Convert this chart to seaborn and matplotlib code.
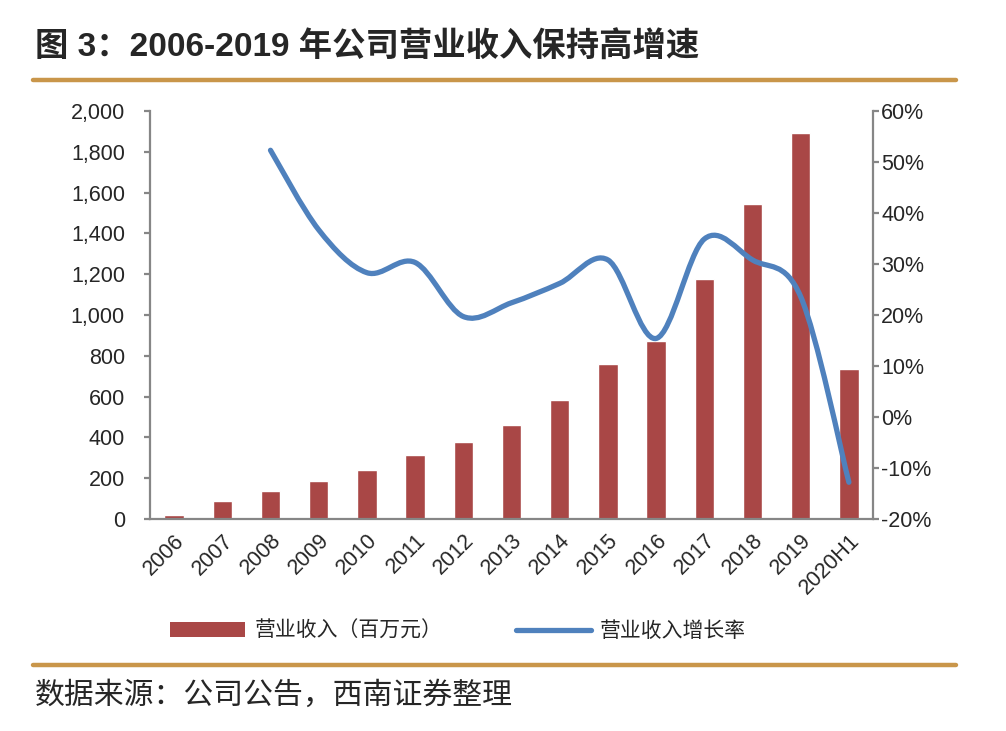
import numpy as np
import pandas as pd
import matplotlib
matplotlib.use("Agg")
import matplotlib.pyplot as plt
import seaborn as sns
from matplotlib.path import Path
from matplotlib.patches import PathPatch
from matplotlib.lines import Line2D
from matplotlib.patches import Patch
from matplotlib.ticker import FuncFormatter, MultipleLocator

# ---- data ----
years = ["2006", "2007", "2008", "2009", "2010", "2011", "2012", "2013",
         "2014", "2015", "2016", "2017", "2018", "2019", "2020H1"]
revenue = [19, 88, 135, 187, 240, 313, 376, 462, 582, 760, 874, 1178, 1542, 1893, 736]
growth_years = ["2008", "2009", "2010", "2011", "2012", "2013", "2014",
                "2015", "2016", "2017", "2018", "2019", "2020H1"]
growth = [0.523, 0.367, 0.283, 0.303, 0.197, 0.224, 0.262, 0.308, 0.154,
          0.349, 0.308, 0.236, -0.128]

title = "图 3：2006-2019 年公司营业收入保持高增速"
source = "数据来源：公司公告，西南证券整理"
bar_label = "营业收入（百万元）"
line_label = "营业收入增长率"

BAR_C = "#A94746"
LINE_C = "#4F81BD"
GOLD = "#C9964A"
AX_C = "#868686"

sns.set_theme(style="white")
plt.rcParams["font.family"] = ["Liberation Sans", "Noto Sans CJK SC", "DejaVu Sans"]

fig = plt.figure(figsize=(10.06, 7.31), dpi=100)
W, H = 1006, 731
ax = fig.add_axes([150 / W, 1 - 519 / H, (873 - 150) / W, (519 - 111) / H])

df = pd.DataFrame({"year": years, "rev": revenue})
sns.barplot(data=df, x="year", y="rev", ax=ax, color=BAR_C, saturation=1,
            width=0.4, order=years)
ax.set_xlim(-0.5, len(years) - 0.5)
ax.set_ylim(0, 2000)
ax.yaxis.set_major_locator(MultipleLocator(200))
ax.yaxis.set_major_formatter(FuncFormatter(lambda v, p: f"{int(v):,}"))
ax.set_xlabel("")
ax.set_ylabel("")

ax2 = ax.twinx()
ax2.set_ylim(-0.2, 0.6)
ax2.yaxis.set_major_locator(MultipleLocator(0.1))
ax2.yaxis.set_major_formatter(FuncFormatter(lambda v, p: f"{round(v * 100):d}%"))

# smooth (Excel-style) curve through growth points using cubic Bezier segments
xs = np.array([years.index(y) for y in growth_years], dtype=float)
ys = np.array(growth, dtype=float)
pts = np.column_stack([xs, ys])
n = len(pts)
verts = [tuple(pts[0])]
codes = [Path.MOVETO]
for i in range(n - 1):
    p0 = pts[i - 1] if i > 0 else pts[i]
    p1 = pts[i]
    p2 = pts[i + 1]
    p3 = pts[i + 2] if i + 2 < n else pts[i + 1]
    c1 = p1 + (p2 - p0) / 6.0
    c2 = p2 - (p3 - p1) / 6.0
    verts += [tuple(c1), tuple(c2), tuple(p2)]
    codes += [Path.CURVE4, Path.CURVE4, Path.CURVE4]
patch = PathPatch(Path(verts, codes), facecolor="none", edgecolor=LINE_C,
                  lw=3.8, capstyle="round", joinstyle="round")
ax2.add_patch(patch)

for a in (ax, ax2):
    for s in a.spines.values():
        s.set_visible(False)
ax.spines["left"].set_visible(True)
ax.spines["bottom"].set_visible(True)
ax2.spines["right"].set_visible(True)
for s in (ax.spines["left"], ax.spines["bottom"], ax2.spines["right"]):
    s.set_color(AX_C)
    s.set_linewidth(1.6)

ax.tick_params(axis="y", which="major", direction="out", length=4, width=1.6,
               color=AX_C, labelsize=15.5, pad=14, left=True)
ax2.tick_params(axis="y", which="major", direction="out", length=4, width=1.6,
                color=AX_C, labelsize=15.5, pad=2, right=True)
ax.tick_params(axis="x", length=0, labelsize=15.5, pad=8)
for lab in ax.get_xticklabels():
    lab.set_rotation(45)
    lab.set_ha("right")
    lab.set_rotation_mode("anchor")
ax.grid(False)
ax2.grid(False)

# legend
handles = [Patch(facecolor=BAR_C, edgecolor="none", label=bar_label),
           Line2D([0], [0], color=LINE_C, lw=3.8, solid_capstyle="round", label=line_label)]
fig.legend(handles=handles, loc="center left", bbox_to_anchor=(160 / W, 1 - 631 / H),
           ncol=2, frameon=False, handlelength=3.6, handleheight=0.7,
           handletextpad=0.45, columnspacing=3.5, borderpad=0,
           prop={"family": ["Noto Sans CJK SC"], "size": 15})

# title and rules
fig.text(35 / W, 1 - 48 / H, title, fontsize=24, fontweight="bold", va="center", ha="left",
         family=["Liberation Sans", "Noto Sans CJK SC"])
fig.add_artist(Line2D([33 / W, 956 / W], [1 - 80 / H, 1 - 80 / H], color=GOLD, lw=3.2))
fig.add_artist(Line2D([33 / W, 956 / W], [1 - 665 / H, 1 - 665 / H], color=GOLD, lw=3.2))
fig.text(35 / W, 1 - 695 / H, source, fontsize=21.5, va="center", ha="left",
         family=["Noto Sans CJK SC"], style="italic")

fig.savefig("out.png", dpi=100, facecolor="white")
